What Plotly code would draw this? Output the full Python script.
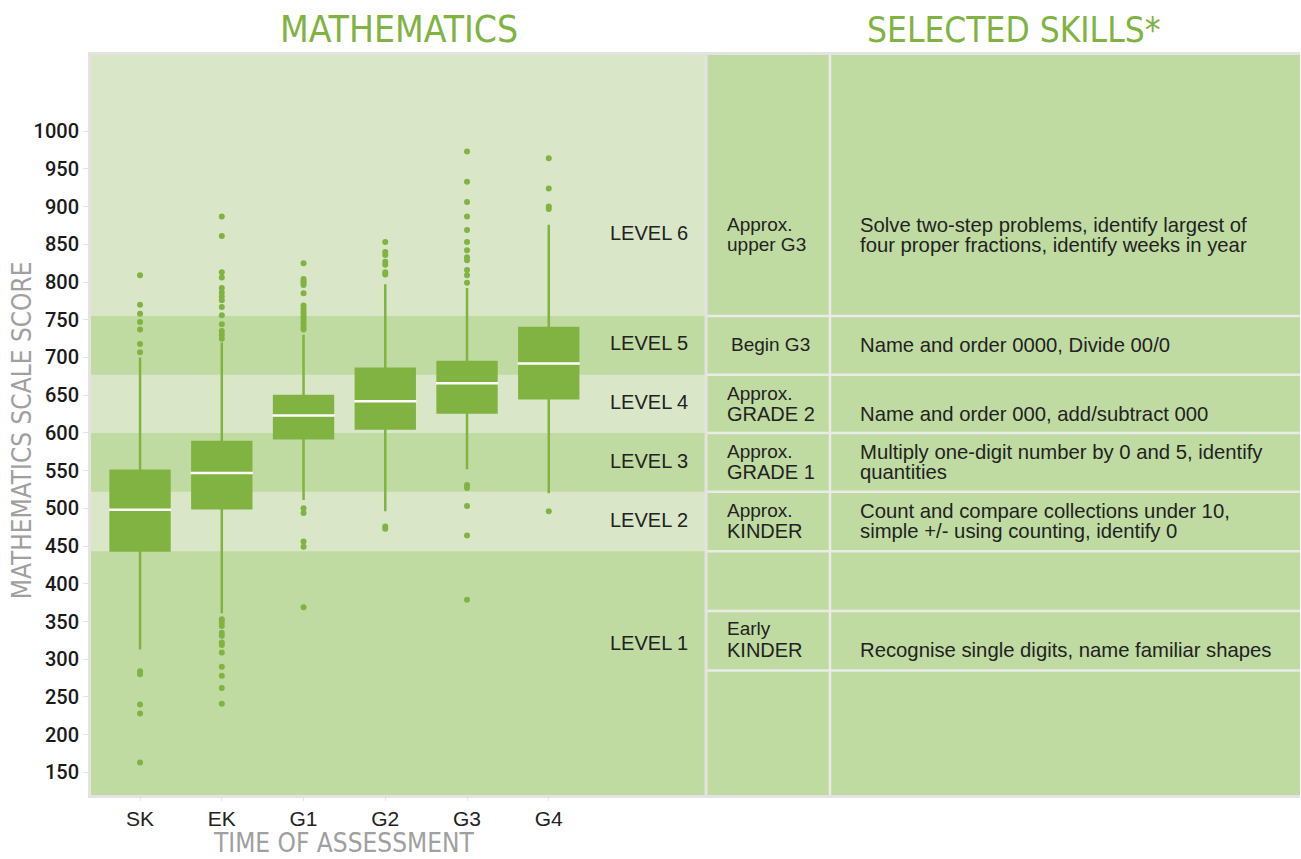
import plotly.graph_objects as go

# ---------------- data ----------------
categories = ["SK", "EK", "G1", "G2", "G3", "G4"]
q1 = [444, 500, 593, 606, 627, 646]
median = [498, 547, 623, 642, 666, 692]
q3 = [550, 588, 649, 685, 694, 739]
lower_whisker = [313, 361, 511, 496, 552, 520]
upper_whisker = [700, 720, 730, 797, 792, 876]

outliers_sk = [809, 770, 758, 747, 737, 718, 707, 284, 280, 240, 228, 163]
outliers_ek = [887, 861, 813, 806, 792, 786, 781, 776, 767, 756, 744, 735, 730, 725,
               353, 349, 344, 335, 331, 322, 319, 309, 290, 278, 262, 241]
outliers_g1 = [825, 804, 801, 799, 796, 785, 769, 765, 761, 758, 754, 751, 747, 744, 740, 737,
               500, 494, 456, 449, 369]
outliers_g2 = [853, 840, 836, 827, 823, 813, 810, 476, 473]
outliers_g3 = [973, 933, 906, 887, 869, 853, 842, 833, 829, 816, 809, 799, 531, 527, 503, 464, 379]
outliers_g4 = [964, 924, 900, 897, 496]
outliers = [outliers_sk, outliers_ek, outliers_g1, outliers_g2, outliers_g3, outliers_g4]

level_names = ["LEVEL 1", "LEVEL 2", "LEVEL 3", "LEVEL 4", "LEVEL 5", "LEVEL 6"]
level_lo = [120, 443, 522, 600, 677, 755]
level_hi = [443, 522, 600, 677, 755, 1101]
table_row_lines = [755, 677, 600, 522, 443, 364, 285]

grade_text = [["Approx.", "upper G3"], ["Begin G3"], ["Approx.", "GRADE 2"],
              ["Approx.", "GRADE 1"], ["Approx.", "KINDER"], ["Early", "KINDER"]]
skill_text = [["Solve two-step problems, identify largest of",
               "four proper fractions, identify weeks in year"],
              ["Name and order 0000, Divide 00/0"],
              ["Name and order 000, add/subtract 000"],
              ["Multiply one-digit number by 0 and 5, identify", "quantities"],
              ["Count and compare collections under 10,",
               "simple +/- using counting, identify 0"],
              ["Recognise single digits, name familiar shapes"]]

# ---------------- styles / positions ----------------
GREEN = "#80b341"
LIGHT = "#d9e7c8"
DARK = "#c0dba2"
BORDER = "#e3e3e3"
TABLE_LINE = "#e9ece6"
NARROW = "DejaVu Sans Condensed, Liberation Sans Narrow, Liberation Sans, Arial, sans-serif"
SANS = "Liberation Sans, Arial, sans-serif"

Y_MIN, Y_MAX = 120, 1101
X_MIN, X_MAX = -0.6, 14.19
X_SPLIT = 6.924      # boundary between chart and table
X_COL = 8.44         # boundary between the two table columns
BOX_W = 0.72

fig = go.Figure()

fig.add_trace(go.Box(
    x=list(range(len(categories))),
    q1=q1, median=median, q3=q3,
    lowerfence=lower_whisker, upperfence=upper_whisker,
    width=BOX_W, whiskerwidth=0,
    fillcolor=GREEN, line=dict(color=GREEN, width=2.5),
    boxpoints=False, showlegend=False, hoverinfo="skip",
))

ox, oy = [], []
for i, vals in enumerate(outliers):
    ox += [i] * len(vals)
    oy += vals
fig.add_trace(go.Scatter(
    x=ox, y=oy, mode="markers",
    marker=dict(color=GREEN, size=6, line=dict(width=0)),
    showlegend=False, hoverinfo="skip",
))

shapes = []
for k, (lo, hi) in enumerate(zip(level_lo, level_hi)):
    if k % 2 == 1:
        shapes.append(dict(type="rect", xref="x", yref="y", x0=X_MIN, x1=X_SPLIT,
                           y0=lo, y1=hi, fillcolor=LIGHT, line=dict(width=0), layer="below"))
for i, m in enumerate(median):
    shapes.append(dict(type="line", xref="x", yref="y", x0=i - BOX_W / 2 - 0.02,
                       x1=i + BOX_W / 2 + 0.02, y0=m, y1=m,
                       line=dict(color="white", width=2.5)))
for v in table_row_lines:
    shapes.append(dict(type="line", xref="x", yref="y", x0=X_SPLIT, x1=X_MAX,
                       y0=v, y1=v, line=dict(color=TABLE_LINE, width=2.5)))
shapes.append(dict(type="line", xref="x", yref="y", x0=X_SPLIT, x1=X_SPLIT,
                   y0=Y_MIN, y1=Y_MAX, line=dict(color=BORDER, width=3)))
shapes.append(dict(type="line", xref="x", yref="y", x0=X_COL, x1=X_COL,
                   y0=Y_MIN, y1=Y_MAX, line=dict(color=TABLE_LINE, width=2.5)))

annotations = []
level_label_y = [321, 484.5, 563, 641, 719, 865]
for name, ly in zip(level_names, level_label_y):
    annotations.append(dict(x=5.73, y=ly, xref="x", yref="y", text=name,
                            showarrow=False, xanchor="left", yanchor="middle",
                            font=dict(family=SANS, size=20, color="#222222")))

grade_y = [[876, 849.5], [716.7], [652.5, 625.3], [575.5, 548.3], [497.3, 470], [340.5, 312]]
grade_x = [7.17, 7.22, 7.17, 7.17, 7.17, 7.17]
skill_y = [[876, 849.5], [716.7], [625.3], [574.8, 548.3], [496.6, 470], [312]]
for r in range(len(grade_text)):
    for t, yy in zip(grade_text[r], grade_y[r]):
        annotations.append(dict(x=grade_x[r], y=yy, xref="x", yref="y", text=t,
                                showarrow=False, xanchor="left", yanchor="middle",
                                borderpad=0,
                                font=dict(family=SANS, size=20 if t.isupper() else 19,
                                          color="#222222")))
    for t, yy in zip(skill_text[r], skill_y[r]):
        annotations.append(dict(x=8.795, y=yy, xref="x", yref="y", text=t,
                                showarrow=False, xanchor="left", yanchor="middle",
                                borderpad=0,
                                font=dict(family=SANS, size=20.3, color="#222222")))

annotations.append(dict(x=3.17, y=1.034, xref="x", yref="paper", text="MATHEMATICS",
                        showarrow=False, xanchor="center", yanchor="middle",
                        font=dict(family=NARROW, size=37, color=GREEN)))
annotations.append(dict(x=10.68, y=1.034, xref="x", yref="paper", text="SELECTED SKILLS*",
                        showarrow=False, xanchor="center", yanchor="middle",
                        font=dict(family=NARROW, size=35, color=GREEN)))
annotations.append(dict(x=2.5, y=-0.065, xref="x", yref="paper", text="TIME OF ASSESSMENT",
                        showarrow=False, xanchor="center", yanchor="middle", borderpad=0,
                        font=dict(family=NARROW, size=26, color="#a0a0a0")))
annotations.append(dict(x=-0.057, y=0.493, xref="paper", yref="paper",
                        text="MATHEMATICS SCALE SCORE", textangle=-90,
                        showarrow=False, xanchor="center", yanchor="middle",
                        font=dict(family=NARROW, size=26, color="#a0a0a0")))

fig.update_layout(
    width=1301, height=859,
    margin=dict(l=91, r=1, t=55, b=64),
    paper_bgcolor="white", plot_bgcolor=DARK,
    shapes=shapes, annotations=annotations,
    showlegend=False,
    xaxis=dict(range=[X_MIN, X_MAX], tickmode="array",
               tickvals=list(range(len(categories))), ticktext=categories,
               showgrid=False, zeroline=False, showline=True, linecolor=BORDER,
               linewidth=3, mirror=True, ticks="outside", ticklen=3, tickcolor=BORDER,
               tickfont=dict(family=SANS, size=21, color="#222222")),
    yaxis=dict(range=[Y_MIN, Y_MAX], tickmode="array",
               tickvals=list(range(150, 1001, 50)),
               showgrid=False, zeroline=False, showline=True, linecolor=BORDER,
               linewidth=3, ticks="outside", ticklen=5, tickcolor=BORDER,
               tickfont=dict(family="Roboto, Liberation Sans, sans-serif", size=20,
                             weight=500, color="#1a1a1a")),
)

fig.write_html("out.html",
               config={"displayModeBar": False},
               post_script="document.body.style.margin='0';document.body.style.padding='0';"
                           "document.body.style.overflow='hidden';")
